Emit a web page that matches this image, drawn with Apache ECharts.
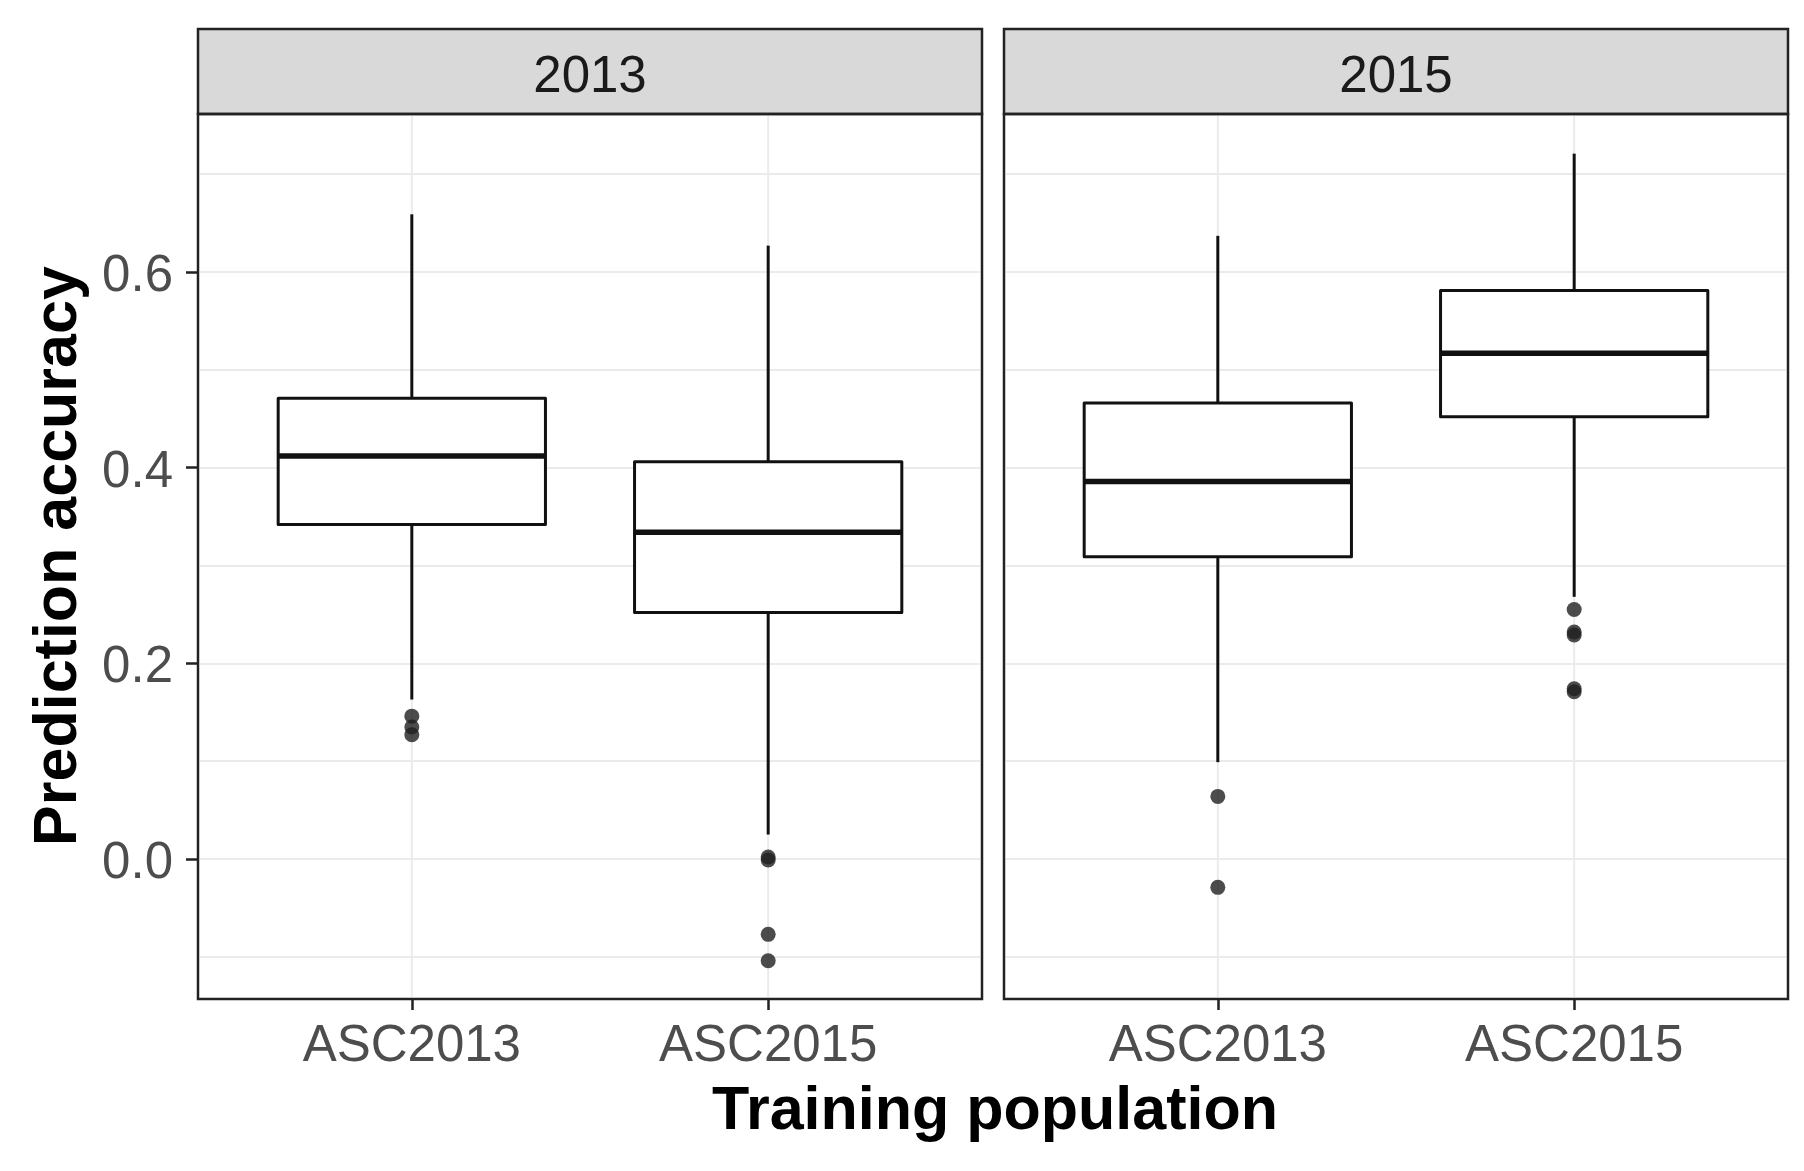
<!DOCTYPE html>
<html>
<head>
<meta charset="utf-8">
<title>Prediction accuracy by training population</title>
<script src="https://cdn.jsdelivr.net/npm/echarts@6/dist/echarts.min.js"></script>
<style>
  html, body { margin: 0; padding: 0; background: #fff; }
  #main { width: 1804px; height: 1171px; }
</style>
</head>
<body>
<div id="main"></div>
<script>
// facet panels and x categories
var panels = ['2013', '2015'];
var categories = ['ASC2013', 'ASC2015'];

// boxes: [lower whisker, Q1, median, Q3, upper whisker]
var boxes2013 = [
  [0.163, 0.342, 0.412, 0.471, 0.659],
  [0.025, 0.252, 0.334, 0.406, 0.627]
];
var boxes2015 = [
  [0.099, 0.309, 0.386, 0.466, 0.637],
  [0.268, 0.452, 0.517, 0.581, 0.721]
];

// outliers: [category, value]
var outliers2013 = [
  ['ASC2013', 0.146], ['ASC2013', 0.135], ['ASC2013', 0.127],
  ['ASC2015', 0.002], ['ASC2015', -0.001], ['ASC2015', -0.077], ['ASC2015', -0.104]
];
var outliers2015 = [
  ['ASC2013', 0.064], ['ASC2013', -0.029],
  ['ASC2015', 0.255], ['ASC2015', 0.232], ['ASC2015', 0.229],
  ['ASC2015', 0.174], ['ASC2015', 0.171]
];

var yTickValues = [0.0, 0.2, 0.4, 0.6];

var allBoxes = [boxes2013, boxes2015];
var allOutliers = [outliers2013, outliers2015];

// layout (pixels)
var panelLeft = [198, 1004];
var panelW = 784;
var panelTop = 114;
var panelBottom = 999;
var stripTop = 29;
var y0 = 859;          // pixel of 0.0
var unit = 978.3;      // pixels per 1.0
function py(v) { return y0 - unit * v; }
var yMinPanel = (y0 - panelBottom) / unit;
var yMaxPanel = (y0 - panelTop) / unit;

var font = "'Liberation Sans', Arial, Helvetica, sans-serif";
var ink = '#111';
var gridColor = '#ebebeb';

function renderBox(params, api) {
  var x = api.value(0);
  var lo = api.coord([x, api.value(1)]);
  var q1 = api.coord([x, api.value(2)]);
  var med = api.coord([x, api.value(3)]);
  var q3 = api.coord([x, api.value(4)]);
  var hi = api.coord([x, api.value(5)]);
  var half = api.size([1, 0])[0] * 0.75 / 2;
  var cx = med[0];
  var line = { stroke: ink, lineWidth: 3 };
  return {
    type: 'group',
    children: [
      { type: 'line', shape: { x1: cx, y1: hi[1], x2: cx, y2: q3[1] }, style: line },
      { type: 'line', shape: { x1: cx, y1: q1[1], x2: cx, y2: lo[1] }, style: line },
      { type: 'rect', shape: { x: cx - half, y: q3[1], width: half * 2, height: q1[1] - q3[1] },
        style: { fill: '#fff', stroke: ink, lineWidth: 3, lineJoin: 'round' } },
      { type: 'line', shape: { x1: cx - half, y1: med[1], x2: cx + half, y2: med[1] },
        style: { stroke: ink, lineWidth: 5.5 } }
    ]
  };
}

function renderVGrid(params, api) {
  var cs = params.coordSys;
  var x = api.coord([api.value(0), api.value(1)])[0];
  return {
    type: 'line',
    shape: { x1: x, y1: cs.y + 2, x2: x, y2: cs.y + cs.height - 2 },
    style: { stroke: gridColor, lineWidth: 2 }
  };
}

var grids = [], xAxes = [], yAxes = [], series = [];

function hiddenValueAxis(gi, extra) {
  return Object.assign({ type: 'value', gridIndex: gi, show: false }, extra || {});
}

panels.forEach(function (name, p) {
  var L = panelLeft[p];
  var band = panelW / 2.2;

  // strip
  var gStrip = grids.length;
  grids.push({ left: L, top: stripTop, width: panelW, height: panelTop - stripTop,
    show: true, backgroundColor: '#d9d9d9', borderColor: '#222', borderWidth: 2.5 });
  xAxes.push(hiddenValueAxis(gStrip));
  yAxes.push(hiddenValueAxis(gStrip));

  // horizontal grid lines, -0.1 .. 0.7
  var gLines = grids.length;
  grids.push({ left: L + 2, top: py(0.7), width: panelW - 4, height: py(-0.1) - py(0.7) });
  xAxes.push(hiddenValueAxis(gLines));
  yAxes.push({
    type: 'value', gridIndex: gLines, min: -0.1, max: 0.7, interval: 0.1,
    axisLine: { show: false }, axisTick: { show: false }, axisLabel: { show: false },
    splitLine: { show: true, lineStyle: { color: gridColor, width: 2 } }
  });

  // data grid: ggplot discrete scale spans 0.4 .. 2.6
  var gData = grids.length;
  grids.push({ left: L + band * 0.1, top: panelTop, width: band * 2, height: panelBottom - panelTop });
  xAxes.push({
    type: 'category', gridIndex: gData, data: categories, boundaryGap: true, position: 'bottom',
    axisLine: { show: false, onZero: false },
    axisTick: { show: true, alignWithLabel: true, length: 11, lineStyle: { color: '#222', width: 2.5 } },
    axisLabel: { margin: 22, fontSize: 51, color: '#4d4d4d', fontFamily: font },
    splitLine: { show: false }
  });
  yAxes.push(hiddenValueAxis(gData, { min: yMinPanel, max: yMaxPanel }));

  series.push({
    type: 'custom', xAxisIndex: gData, yAxisIndex: gData, z: 1, silent: true,
    data: categories.map(function (c, i) { return [i, 0.35]; }),
    encode: { x: 0, y: 1 },
    renderItem: renderVGrid
  });
  series.push({
    type: 'custom', name: name, xAxisIndex: gData, yAxisIndex: gData, z: 3,
    data: allBoxes[p].map(function (b, i) { return [i].concat(b); }),
    encode: { x: 0, y: [1, 2, 3, 4, 5] },
    renderItem: renderBox
  });
  series.push({
    type: 'scatter', xAxisIndex: gData, yAxisIndex: gData, z: 4,
    data: allOutliers[p], symbolSize: 15,
    itemStyle: { color: '#1f1f1f' }
  });

  // panel frame on top
  var gFrame = grids.length;
  grids.push({ left: L, top: panelTop, width: panelW, height: panelBottom - panelTop,
    show: true, backgroundColor: 'transparent', borderColor: '#222', borderWidth: 2.5, z: 6 });
  xAxes.push(hiddenValueAxis(gFrame));
  yAxes.push(hiddenValueAxis(gFrame));
});

// y ticks and labels, 0.0 .. 0.6
var gTicks = grids.length;
grids.push({ left: panelLeft[0], top: py(0.6), width: panelW, height: py(0) - py(0.6) });
xAxes.push(hiddenValueAxis(gTicks));
yAxes.push({
  type: 'value', gridIndex: gTicks, min: yTickValues[0], max: yTickValues[yTickValues.length - 1],
  interval: 0.2,
  axisLine: { show: false },
  axisTick: { show: true, length: 12, lineStyle: { color: '#222', width: 2.5 } },
  axisLabel: { margin: 25, fontSize: 51, color: '#4d4d4d', fontFamily: font,
    verticalAlign: 'top', lineHeight: 10,
    formatter: function (v) { return v.toFixed(1); } },
  splitLine: { show: false }
});

function label(text, x, y, size, weight, color, rot) {
  return {
    type: 'text', x: x, y: y, rotation: rot || 0, z: 10,
    style: {
      text: text, fontSize: size, fontWeight: weight, fontFamily: font, fill: color,
      align: 'center', verticalAlign: 'middle', textAlign: 'center', textVerticalAlign: 'middle'
    }
  };
}

var graphics = panels.map(function (name, p) {
  return label(name, panelLeft[p] + panelW / 2, 78, 51, 'normal', '#1a1a1a');
});
graphics.push(label('Training population', 995, 1112, 61, 'bold', '#000'));
graphics.push(label('Prediction accuracy', 59, 556, 61, 'bold', '#000', Math.PI / 2));

var chart = echarts.init(document.getElementById('main'));
chart.setOption({
  backgroundColor: '#fff',
  animation: false,
  grid: grids,
  xAxis: xAxes,
  yAxis: yAxes,
  series: series,
  graphic: graphics
});
</script>
</body>
</html>
